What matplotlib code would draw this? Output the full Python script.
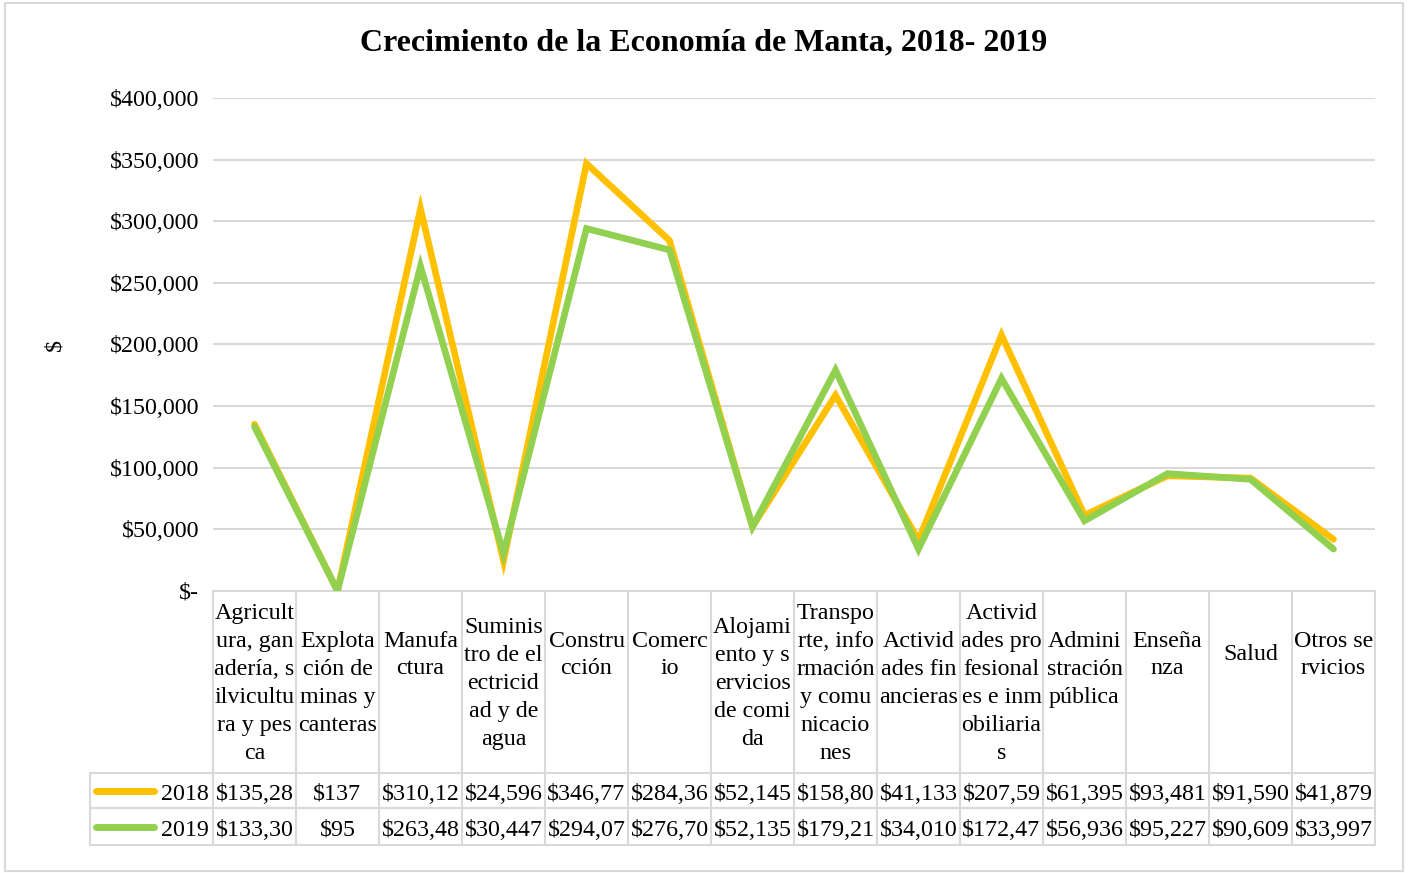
import matplotlib.pyplot as plt
from matplotlib.patches import Rectangle
from matplotlib.lines import Line2D

plt.rcParams['font.family'] = ['Liberation Serif', 'DejaVu Serif']

categorias = [
    "Agricult\nura, gan\nadería, s\nilvicultu\nra y pes\nca",
    "Explota\nción de\nminas y\ncanteras",
    "Manufa\nctura",
    "Suminis\ntro de el\nectricid\nad y de\nagua",
    "Constru\ncción",
    "Comerc\nio",
    "Alojami\nento y s\nervicios\nde comi\nda",
    "Transpo\nrte, info\nrmación\ny comu\nnicacio\nnes",
    "Activid\nades fin\nancieras",
    "Activid\nades pro\nfesional\nes e inm\nobiliaria\ns",
    "Admini\nstración\npública",
    "Enseña\nnza",
    "Salud",
    "Otros se\nrvicios",
]
v2018 = [135280, 137, 310120, 24596, 346770, 284360, 52145, 158800, 41133,
         207590, 61395, 93481, 91590, 41879]
v2019 = [133300, 95, 263480, 30447, 294070, 276700, 52135, 179210, 34010,
         172470, 56936, 95227, 90609, 33997]
series = [("2018", v2018, "#FFC000"), ("2019", v2019, "#92D050")]
yticks = [0, 50000, 100000, 150000, 200000, 250000, 300000, 350000, 400000]

W, H = 1408, 873
fig = plt.figure(figsize=(W / 100, H / 100), dpi=100)
grid_c = "#D9D9D9"
fs = 17.3

# outer chart border
fig.patches.append(Rectangle((5 / W, 1 - 871 / H), 1398 / W, 868 / H,
                             transform=fig.transFigure, fill=False,
                             edgecolor=grid_c, linewidth=1.5))

x0, x1, ytop, ybot = 213, 1375, 98, 591
ax = fig.add_axes([x0 / W, 1 - ybot / H, (x1 - x0) / W, (ybot - ytop) / H])
n = len(categorias)
xs = list(range(n))

for name, vals, col in series:
    ax.plot(xs, vals, color=col, linewidth=4.8, solid_joinstyle='miter',
            solid_capstyle='round', zorder=3)

ax.set_xlim(-0.5, n - 0.5)
ax.set_ylim(0, 400000)
ax.set_yticks(yticks)
ax.set_yticklabels(["$-" if t == 0 else f"${t:,.0f}" for t in yticks], fontsize=fs)
ax.tick_params(axis='y', length=0, pad=10)
ax.set_xticks([])
ax.grid(axis='y', color=grid_c, linewidth=1.5)
ax.set_axisbelow(True)
for s in ["top", "right", "left"]:
    ax.spines[s].set_visible(False)
ax.spines["bottom"].set_color(grid_c)
ax.spines["bottom"].set_linewidth(1.5)

fig.text(704 / W, 1 - 43 / H, "Crecimiento de la Economía de Manta, 2018- 2019",
         fontsize=23, fontweight='bold', ha='center', va='center')
fig.text(55 / W, 1 - 345 / H, "$", rotation=90, fontsize=fs,
         ha='center', va='center')

# data table below the axis
def ay(px):
    return (ybot - px) / (ybot - ytop)

tr = ax.get_xaxis_transform()
lk = dict(color=grid_c, linewidth=1.5, clip_on=False, transform=tr)
for i in range(n + 1):
    ax.add_line(Line2D([i - 0.5, i - 0.5], [ay(591), ay(845)], **lk))
left_x = -0.5 - (x0 - 90) / ((x1 - x0) / n)
for py in [773, 808, 845]:
    ax.add_line(Line2D([left_x, n - 0.5], [ay(py), ay(py)], **lk))
ax.add_line(Line2D([left_x, left_x], [ay(773), ay(845)], **lk))

for i, lab in enumerate(categorias):
    nl = lab.count("\n") + 1
    cy = min(683.5, max(654.5, 640.5 + 14.5 * (nl - 1)))
    ax.text(i, ay(cy), lab, transform=tr, ha='center', va='center',
            multialignment='center', fontsize=fs, linespacing=1.43)

def celda(v):
    return f"${v:,.0f}"[:7]

unit = (x1 - x0) / n
for (name, vals, col), py in zip(series, [791, 827]):
    ax.add_line(Line2D([left_x + 6 / unit, left_x + 64 / unit], [ay(py), ay(py)],
                       color=col, linewidth=5, solid_capstyle='round',
                       clip_on=False, transform=tr))
    ax.text(-0.5 - 4 / unit, ay(py + 8.5), name, transform=tr, ha='right',
            va='baseline', fontsize=fs)
    for i, v in enumerate(vals):
        ax.text(i, ay(py + 8.5), celda(v), transform=tr, ha='center',
                va='baseline', fontsize=fs)

fig.savefig("out.png", dpi=100)
